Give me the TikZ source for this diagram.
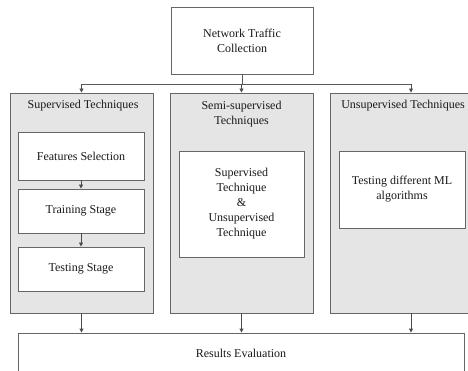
\documentclass[tikz,border=0pt]{standalone}
\usepackage{fontspec}
\setmainfont{Liberation Serif}
\usetikzlibrary{arrows.meta,positioning}

\begin{document}
\begin{tikzpicture}[x=1pt, y=-1pt,
  every node/.style = {align=center, text=black!90,
    font=\fontsize{12}{15}\selectfont},
  box/.style = {draw=black!60, line width=0.9pt, fill=white},
  column/.style = {box, fill=black!10, minimum height=220pt},
  link/.style = {draw=black!70, line width=0.9pt,
    -{Triangle[length=4pt, width=4pt]}}]
  \useasboundingbox (0,0) rectangle (468,371);

  % collection at the top
  \node[box, minimum width=142pt, minimum height=67pt] (collect) at (242,40.5)
    {Network Traffic\\Collection};
  \coordinate (split) at (242,84);

  % the three families of techniques
  \node[column, minimum width=143pt] (sup)  at (81.5,203)  {};
  \node[column, minimum width=143pt] (semi) at (241.5,203) {};
  \node[column, minimum width=162pt] (uns)  at (411,203)   {};

  \node (suphead)  at (83,106) {Supervised Techniques};
  \node (semihead) at (241.5,114) {Semi-supervised\\Techniques};
  \node (unshead)  at (403,106) {Unsupervised Techniques};

  % supervised pipeline
  \node[box, minimum width=126pt, minimum height=48pt] (feat)  at (81,156) {Features Selection};
  \node[box, minimum width=126pt, minimum height=44pt] (train) at (81,211) {Training Stage};
  \node[box, minimum width=126pt, minimum height=44pt] (test)  at (81,269) {Testing Stage};

  \node[box, minimum width=125pt, minimum height=106pt] (mixed) at (241.5,204)
    {Supervised\\Technique\\\&\\Unsupervised\\Technique};
  \node[box, minimum width=126pt, minimum height=77pt] (mlalgo) at (402,189.5)
    {Testing different ML\\algorithms};

  % evaluation at the bottom
  \node[box, minimum width=446pt, minimum height=40pt] (results) at (241,353)
    {Results Evaluation};

  % connectors
  \draw[draw=black!65, line width=0.9pt] (collect.south) -- (split);
  \draw[draw=black!65, line width=0.9pt] (split -| sup.north) -- (split -| uns.north);
  \foreach \col in {sup, semi, uns}
  {
    \draw[link] (split -| \col.north) -- (\col.north);
    \draw[link] (\col.south) -- (\col.south |- results.north);
  }
  \draw[link] (feat) -- (train);
  \draw[link] (train) -- (test);
\end{tikzpicture}
\end{document}
